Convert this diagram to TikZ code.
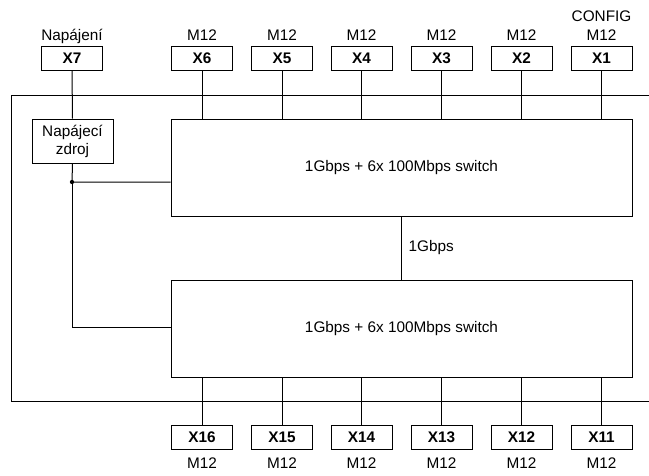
\documentclass[tikz,border=0pt]{standalone}
\usepackage{fontspec}
\setmainfont{Liberation Sans}
\usetikzlibrary{positioning}
\begin{document}
\begin{tikzpicture}[x=0.75pt,y=-0.75pt,line width=0.75pt,
  every node/.style={font=\fontsize{11.5}{13.5}\selectfont, inner sep=0pt},
  port/.style={draw, minimum width=61*0.75pt, minimum height=24*0.75pt, font=\fontsize{11.5}{13.5}\selectfont\bfseries},
  sw/.style={draw, minimum width=461*0.75pt, minimum height=97*0.75pt},
  lbl/.style={font=\fontsize{11.5}{13.5}\selectfont, anchor=base}]
\useasboundingbox (0,0) rectangle (649,475);
% outer frame
\draw (649,95) -- (11,95) -- (11,401) -- (649,401);
% switches
\node[sw, fill=white] (s1) at (401.5,167.5) {1Gbps + 6x 100Mbps switch};
\node[sw, fill=white] (s2) at (401.5,328.5) {1Gbps + 6x 100Mbps switch};
\draw (s1.south) -- (s2.north) node[pos=0.5, right=5pt, font=\fontsize{11.5}{13.5}\selectfont] {1Gbps};
% power
\node[port] (x7) at (72,58) {X7};
\node[lbl] at (72,40) {Napájení};
\node[draw, align=center, minimum width=81*0.75pt, minimum height=44*0.75pt, fill=white, font=\fontsize{11.5}{13.5}\selectfont] (zd) at (72.5,141) {Napájecí\\zdroj};
\draw (x7.south) -- (zd.north);
\coordinate (j) at (72,182);
\draw (zd.south) -- (j) -- (j -| s1.west);
\draw (j) -- (72,327) -- (s2.west |- 0,327);
\fill (j) circle (1.6pt);
% top ports
\foreach \n/\x in {X6/202,X5/282,X4/361.5,X3/441.5,X2/521.5,X1/601.5}{
  \node[port] (t\n) at (\x,58) {\n};
  \node[lbl] at (\x,40) {M12};
  \draw (t\n.south) -- (t\n.south |- s1.north);
}
\node[lbl] at (601.5,21) {CONFIG};
% bottom ports
\foreach \n/\x in {X16/202,X15/282,X14/361.5,X13/441.5,X12/521.5,X11/601.5}{
  \node[port] (b\n) at (\x,437.5) {\n};
  \node[lbl] at (\x,468) {M12};
  \draw (b\n.north) -- (b\n.north |- s2.south);
}
\end{tikzpicture}
\end{document}
